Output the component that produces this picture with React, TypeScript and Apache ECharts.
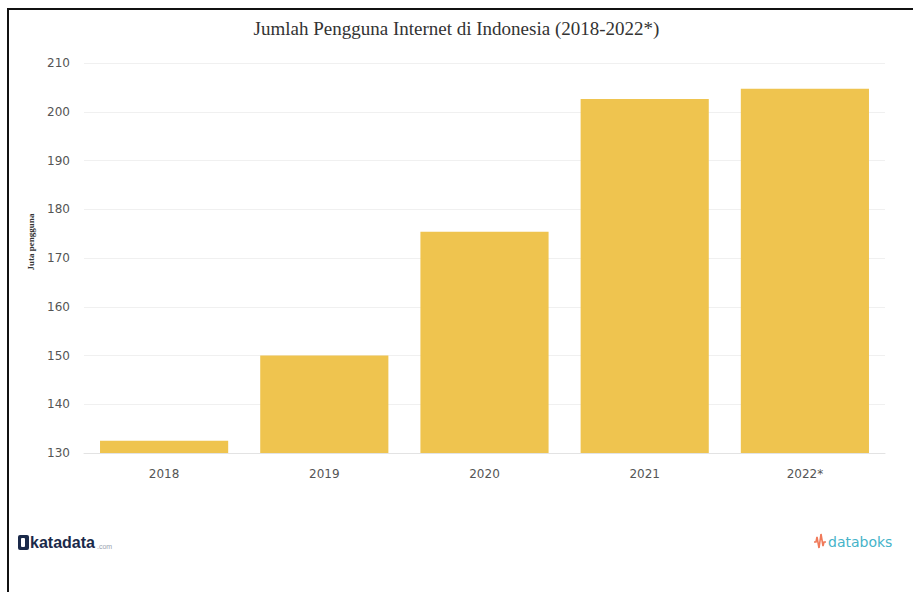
import React, { useEffect, useRef } from "react";
import * as echarts from "echarts";

const categories = ["2018", "2019", "2020", "2021", "2022*"];
const users = [132.5, 150, 175.4, 202.6, 204.7];
const yTicks = { min: 130, max: 210, interval: 10 };
const titleText = "Jumlah Pengguna Internet di Indonesia (2018-2022*)";
const yAxisName = "Juta pengguna";

export default function App() {
  const ref = useRef<HTMLDivElement>(null);
  useEffect(() => {
    if (!ref.current) return;
    const chart = echarts.init(ref.current, null, { renderer: "svg" });
    chart.setOption({
      animation: false,
      backgroundColor: "#ffffff",
      title: {
        text: titleText,
        left: "center",
        top: 14,
        textStyle: {
          fontFamily: "Liberation Serif",
          fontWeight: "normal",
          fontSize: 19,
          color: "#333333",
        },
      },
      grid: { left: 84, right: 28, top: 63, bottom: 139 },
      xAxis: {
        type: "category",
        data: categories,
        axisTick: { show: false },
        axisLine: { lineStyle: { color: "#e3e3e3" } },
        axisLabel: {
          fontFamily: "DejaVu Sans",
          fontSize: 12,
          color: "#555555",
          margin: 15,
        },
      },
      yAxis: {
        type: "value",
        min: yTicks.min,
        max: yTicks.max,
        interval: yTicks.interval,
        axisLine: { show: false },
        axisTick: { show: false },
        splitLine: { lineStyle: { color: "#f0f0f0" } },
        axisLabel: {
          fontFamily: "DejaVu Sans",
          fontSize: 12,
          color: "#555555",
          margin: 14,
        },
      },
      series: [
        {
          type: "bar",
          data: users,
          barWidth: "80%",
          itemStyle: { color: "#EFC44F" },
        },
      ],
      graphic: [
        {
          type: "line",
          shape: { x1: 7, y1: 9, x2: 913, y2: 9 },
          style: { stroke: "#111111", lineWidth: 2 },
        },
        {
          type: "line",
          shape: { x1: 8, y1: 8, x2: 8, y2: 592 },
          style: { stroke: "#111111", lineWidth: 2 },
        },
        {
          type: "text",
          x: 31,
          y: 242,
          rotation: Math.PI / 2,
          style: {
            text: yAxisName,
            fontFamily: "Liberation Serif",
            fontWeight: "bold",
            fontSize: 9,
            fill: "#333333",
            align: "center",
            verticalAlign: "middle",
          },
        },
        {
          type: "rect",
          shape: { x: 18, y: 535, width: 11, height: 15, r: 2 },
          style: { fill: "#1b2a4a" },
        },
        {
          type: "rect",
          shape: { x: 21, y: 538, width: 4, height: 9, r: 1 },
          style: { fill: "#ffffff" },
        },
        {
          type: "text",
          x: 30,
          y: 542,
          style: {
            text: "katadata",
            fontFamily: "Liberation Sans",
            fontWeight: "bold",
            fontSize: 16,
            fill: "#1b2a4a",
            verticalAlign: "middle",
          },
        },
        {
          type: "text",
          x: 97,
          y: 546,
          style: {
            text: ".com",
            fontFamily: "Liberation Sans",
            fontSize: 7,
            fill: "#9aa3b0",
            verticalAlign: "middle",
          },
        },
        {
          type: "polyline",
          shape: {
            points: [
              [814, 542], [816, 542], [817, 537], [819, 548], [821, 534], [823, 546], [824, 542], [826, 542],
            ],
          },
          style: { stroke: "#f07a5a", lineWidth: 1.6, fill: "none" },
        },
        {
          type: "text",
          x: 828,
          y: 542,
          style: {
            text: "databoks",
            fontFamily: "DejaVu Sans",
            fontSize: 14,
            fill: "#45b3c9",
            verticalAlign: "middle",
          },
        },
      ],
    });
    return () => chart.dispose();
  }, []);
  return (
    <div
      ref={ref}
      style={{ position: "fixed", left: 0, top: 0, width: 913, height: 592 }}
    />
  );
}
